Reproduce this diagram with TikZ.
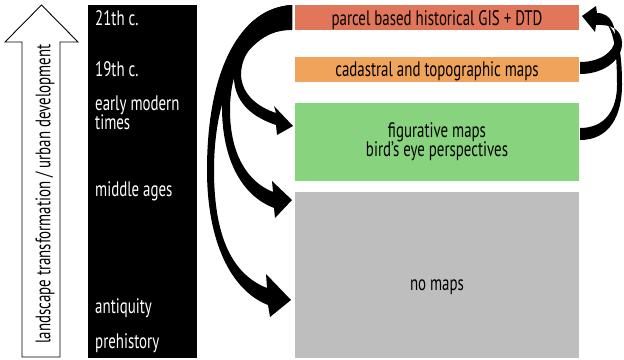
\documentclass[tikz,border=0pt]{standalone}
\usepackage{fontspec}
\setmainfont{PT Sans}[FakeStretch=0.71]
\definecolor{cRed}{RGB}{225,118,91}
\definecolor{cOrange}{RGB}{240,163,90}
\definecolor{cGreen}{RGB}{136,212,126}
\definecolor{cGrey}{RGB}{190,190,190}
\tikzset{
  mapbox/.style={inner sep=0pt, minimum width=284pt},
  lbl/.style={inner sep=0pt, anchor=base, font=\fontsize{21}{21}\selectfont},
  era/.style={inner sep=0pt, anchor=base west, text=white, font=\fontsize{21}{21}\selectfont},
  bigarrow/.style={fill=black}
}
\begin{document}
\begin{tikzpicture}[x=1pt,y=-1pt]
\useasboundingbox (0,0) rectangle (624,359);
% upward outline arrow
\draw[line width=0.9pt, fill=white] (22,357) -- (22,42) -- (5,42) -- (41.5,5) -- (78,42) -- (60,42) -- (60,357) -- cycle;
\node[rotate=90, inner sep=0pt, font=\fontsize{21}{21}\selectfont] (axis) at (45,194) {landscape transformation / urban development};
% black timeline bar
\node[fill=black, inner sep=0pt, minimum width=109pt, minimum height=353pt] (bar) at (142.5,181.5) {};
\node[era] (t21) at (95,25) {21th c.};
\node[era] (t19) at (95,76) {19th c.};
\node[era] (tem) at (95,110) {early modern};
\node[era] (tti) at (95,129) {times};
\node[era] (tma) at (95,196) {middle ages};
\node[era] (tan) at (95,313) {antiquity};
\node[era] (tpr) at (95,348) {prehistory};
% map boxes
\node[mapbox, fill=cRed, minimum height=25pt] (gis) at (437,17.5) {};
\node[mapbox, fill=cOrange, minimum height=25pt] (cad) at (437,69.5) {};
\node[mapbox, fill=cGreen, minimum height=78pt] (fig) at (437,142) {};
\node[mapbox, fill=cGrey, minimum height=166pt] (nom) at (437,275) {};
\node[lbl] (gisT) at (437,25) {parcel based historical GIS + DTD};
\node[lbl] (cadT) at (437,76) {cadastral and topographic maps};
\node[lbl] (figT1) at (437,137) {figurative maps};
\node[lbl] (figT2) at (437,156) {bird’s eye perspectives};
\node[lbl] (nomT) at (437,290) {no maps};
% arrow C (to no maps, lower)
\fill[bigarrow] (292,5) .. controls (240,8) and (207,70) .. (207,170)
  .. controls (207,240) and (230,290) .. (268,305)
  -- (270,317) -- (291,300) -- (266,274) -- (267,288)
  .. controls (234,275) and (214,240) .. (214,170)
  .. controls (214,90) and (245,30) .. (292,29) -- cycle;
% arrow B (to no maps, top)
\fill[bigarrow] (292,5) .. controls (245,8) and (221,55) .. (222,110)
  .. controls (223,165) and (245,197) .. (274,208)
  -- (275,218) -- (292,200) -- (272,181) -- (273,192)
  .. controls (248,182) and (230,155) .. (230,110)
  .. controls (230,60) and (255,30) .. (292,29) -- cycle;
% arrow A (to figurative maps)
\fill[bigarrow] (292,5) .. controls (255,8) and (233,45) .. (234,80)
  .. controls (236,105) and (255,118) .. (276,125)
  -- (277,135) -- (293,126) -- (274,106) -- (276,113)
  .. controls (258,107) and (242,95) .. (241,75)
  .. controls (241,50) and (262,30) .. (292,30) -- cycle;
% arrow D (cadastral -> GIS)
\fill[bigarrow] (580,74) .. controls (606,74) and (623,58) .. (622,42)
  .. controls (621,30) and (612,24) .. (596,25)
  -- (595,32) -- (582,16) -- (596,6) -- (597,13)
  .. controls (612,13) and (616,28) .. (615,40)
  .. controls (614,52) and (600,62) .. (580,62) -- cycle;
% arrow E (figurative -> GIS)
\fill[bigarrow] (580,140) .. controls (610,140) and (622,115) .. (622,85)
  .. controls (622,50) and (618,22) .. (596,20)
  -- (596,16)
  .. controls (614,20) and (617,50) .. (617,85)
  .. controls (617,110) and (605,128) .. (580,128) -- cycle;
\end{tikzpicture}
\end{document}
